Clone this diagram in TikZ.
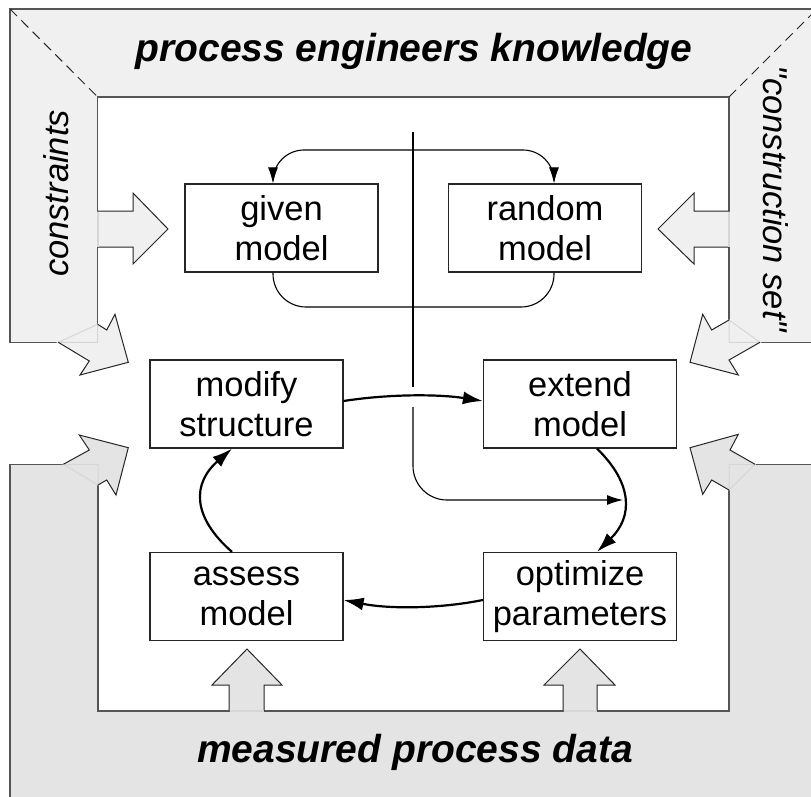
\documentclass[tikz,border=0pt]{standalone}
\usepackage{fontspec}
\setmainfont{Liberation Sans}
\newfontfamily\plainsans{Liberation Sans}
\usetikzlibrary{arrows.meta}
\definecolor{bandA}{HTML}{F0F0F0}
\definecolor{bandB}{HTML}{E4E4E4}
\definecolor{edgecol}{HTML}{555555}
\definecolor{faintcol}{HTML}{D6D6D6}
\begin{document}
\begin{tikzpicture}[x=1pt,y=-1pt,
  box/.style={draw=black!85, line width=1.2pt, fill=white, minimum width=193pt, minimum height=88pt,
    align=center, inner sep=0pt, font=\fontsize{34.5}{40}\selectfont},
  thinline/.style={line width=1.1pt, black},
  thinarr/.style={thinline, -{Latex[length=16pt,width=10pt]}},
  cyc/.style={line width=2.2pt, black, -{Latex[length=20pt,width=13pt]}},
  bandline/.style={draw=edgecol, line width=1.5pt},
  bigarrow/.style={draw=black!85, line width=1pt, line join=miter},
  faintline/.style={draw=faintcol, line width=2pt},
  titletext/.style={font=\fontsize{39}{45}\selectfont\bfseries\itshape},
  sidetext/.style={font=\plainsans\fontsize{34.5}{40}\selectfont\itshape}
]
\useasboundingbox (0,0) rectangle (811,797);
\clip (0,0) rectangle (811,797);

% ---- upper band (light) ----
\fill[bandA] (10,9) -- (830,9) -- (830,342.3) -- (729,342.3) -- (729,97) -- (97.7,97) -- (97.7,342.3) -- (10,342.3) -- cycle;
\draw[bandline] (10,9) -- (830,9) -- (830,342.3) -- (729,342.3) -- (729,97) -- (97.7,97) -- (97.7,342.3) -- (10,342.3) -- cycle;
\draw[black!85, line width=1pt, dash pattern=on 10pt off 6pt] (10,9) -- (97.7,97);
\draw[black!85, line width=1pt, dash pattern=on 10pt off 6pt] (729,97) -- (820,6);

% ---- lower band (darker) ----
\fill[bandB] (10,464.3) -- (98,464.3) -- (98,711) -- (729,711) -- (729,464.3) -- (830,464.3) -- (830,830) -- (10,830) -- cycle;
\draw[bandline] (10,830) -- (10,464.3) -- (98,464.3) -- (98,711) -- (729,711) -- (729,464.3) -- (830,464.3);

% ---- horizontal block arrows ----
\fill[bandA] (97.7,211) -- (133,211) -- (133,193) -- (168,229) -- (133,264) -- (133,247) -- (97.7,247) -- cycle;
\draw[bigarrow] (97.7,211) -- (133,211) -- (133,193) -- (168,229) -- (133,264) -- (133,247) -- (97.7,247);
\draw[faintline] (97.7,211.5) -- (97.7,246.5);
\fill[bandA] (729,211) -- (694,211) -- (694,193) -- (658,229) -- (694,264) -- (694,247) -- (729,247) -- cycle;
\draw[bigarrow] (729,211) -- (694,211) -- (694,193) -- (658,229) -- (694,264) -- (694,247) -- (729,247);
\draw[faintline] (729,211.5) -- (729,246.5);

% ---- diagonal block arrows ----
\fill[bandA] (97.7,324.3) -- (106.7,330) -- (115,314.3) -- (128.3,362.3) -- (80,375) -- (89.3,361) -- (58.3,342.3) -- cycle;
\draw[faintline, line width=1pt] (58.3,342.3) -- (97.7,324.3) -- (97.7,342.3) -- cycle;
\draw[bigarrow] (97.7,324.3) -- (106.7,330) -- (115,314.3) -- (128.3,362.3) -- (80,375) -- (89.3,361) -- (58.3,342.3);

\fill[bandA] (729,320) -- (711.7,330) -- (702.7,314.3) -- (690,362.3) -- (738.3,375) -- (729,360) -- (760,342.3) -- cycle;
\draw[faintline, line width=1pt] (760,342.3) -- (729,320) -- (729,342.3) -- cycle;
\draw[bigarrow] (729,320) -- (711.7,330) -- (702.7,314.3) -- (690,362.3) -- (738.3,375) -- (729,360) -- (760,342.3);

\fill[bandB] (63.3,464.3) -- (89.3,450) -- (79.3,435) -- (128.3,447.7) -- (116,495) -- (106.7,480) -- (98,485) -- cycle;
\draw[faintline, line width=1pt] (63.3,464.3) -- (98,485) -- (98,464.3) -- cycle;
\draw[bigarrow] (63.3,464.3) -- (89.3,450) -- (79.3,435) -- (128.3,447.7) -- (116,495) -- (106.7,480) -- (98,485);

\fill[bandB] (755,464.3) -- (730,450) -- (738.3,434.3) -- (690,447.7) -- (702.7,494.3) -- (711.7,480) -- (729,490) -- cycle;
\draw[faintline, line width=1pt] (755,464.3) -- (729,490) -- (729,464.3) -- cycle;
\draw[bigarrow] (755,464.3) -- (730,450) -- (738.3,434.3) -- (690,447.7) -- (702.7,494.3) -- (711.7,480) -- (729,490);

% ---- upward block arrows ----
\fill[bandB] (229,711) -- (229,685) -- (212,685) -- (247,649) -- (282,685) -- (264,685) -- (264,711) -- cycle;
\draw[bigarrow] (229,711) -- (229,685) -- (212,685) -- (247,649) -- (282,685) -- (264,685) -- (264,711);
\draw[faintline] (229.5,711) -- (263.5,711);
\fill[bandB] (563,711) -- (563,685) -- (544,685) -- (580,649) -- (615,685) -- (597,685) -- (597,711) -- cycle;
\draw[bigarrow] (563,711) -- (563,685) -- (544,685) -- (580,649) -- (615,685) -- (597,685) -- (597,711);
\draw[faintline] (563.5,711) -- (596.5,711);

% ---- texts ----
\node[titletext, anchor=base] (ttop) at (414,62) {process engineers knowledge};
\node[titletext, anchor=base] (tbot) at (415,762) {measured process data};
\node[sidetext, rotate=90, anchor=base] (tleft) at (68,193.5) {constraints};
\node[sidetext, rotate=-90, anchor=base] (tright) at (763,199) {"construction set"};

% ---- boxes ----
\node[box] (given) at (281.5,228) {given\\model};
\node[box] (random) at (545,228) {random\\model};
\node[box] (mod) at (246.5,404) {modify\\structure};
\node[box] (ext) at (580,404) {extend\\model};
\node[box] (ass) at (246.5,596.5) {assess\\model};
\node[box] (opt) at (580,596.5) {optimize\\parameters};

% ---- thin connectors ----
\coordinate (src) at (413,132);
\coordinate (split) at (413,150);
\coordinate (joinB) at (413,307);
\coordinate (gapA) at (413,387);
\coordinate (gapB) at (413,407);
\coordinate (hit) at (623,500);
\draw[thinline] (src) -- (gapA);
\draw[thinarr, rounded corners=31pt] (split) -| ([xshift=-8.5pt]given.north);
\draw[thinarr, rounded corners=31pt] (split) -| ([xshift=9pt]random.north);
\draw[thinline, rounded corners=33pt] ([xshift=-8.5pt]given.south) |- (joinB) -| ([xshift=9pt]random.south);
\draw[thinarr, rounded corners=34pt] (gapB) |- (hit);

% ---- main cycle ----
\draw[cyc] ([yshift=3pt]mod.east) .. controls +(45,-7) and +(-45,-7) .. ([yshift=3pt]ext.west);
\draw[cyc] ([xshift=17pt]ext.south) .. controls +(36,35) and +(36,-35) .. ([xshift=17pt]opt.north);
\draw[cyc] ([yshift=-3.5pt]opt.west) .. controls +(-45,9) and +(45,9) .. ([yshift=-3.5pt]ass.east);
\draw[cyc] ([xshift=-14.5pt]ass.north) .. controls +(-40,-35) and +(-40,35) .. ([xshift=-14.5pt]mod.south);
\end{tikzpicture}
\end{document}
